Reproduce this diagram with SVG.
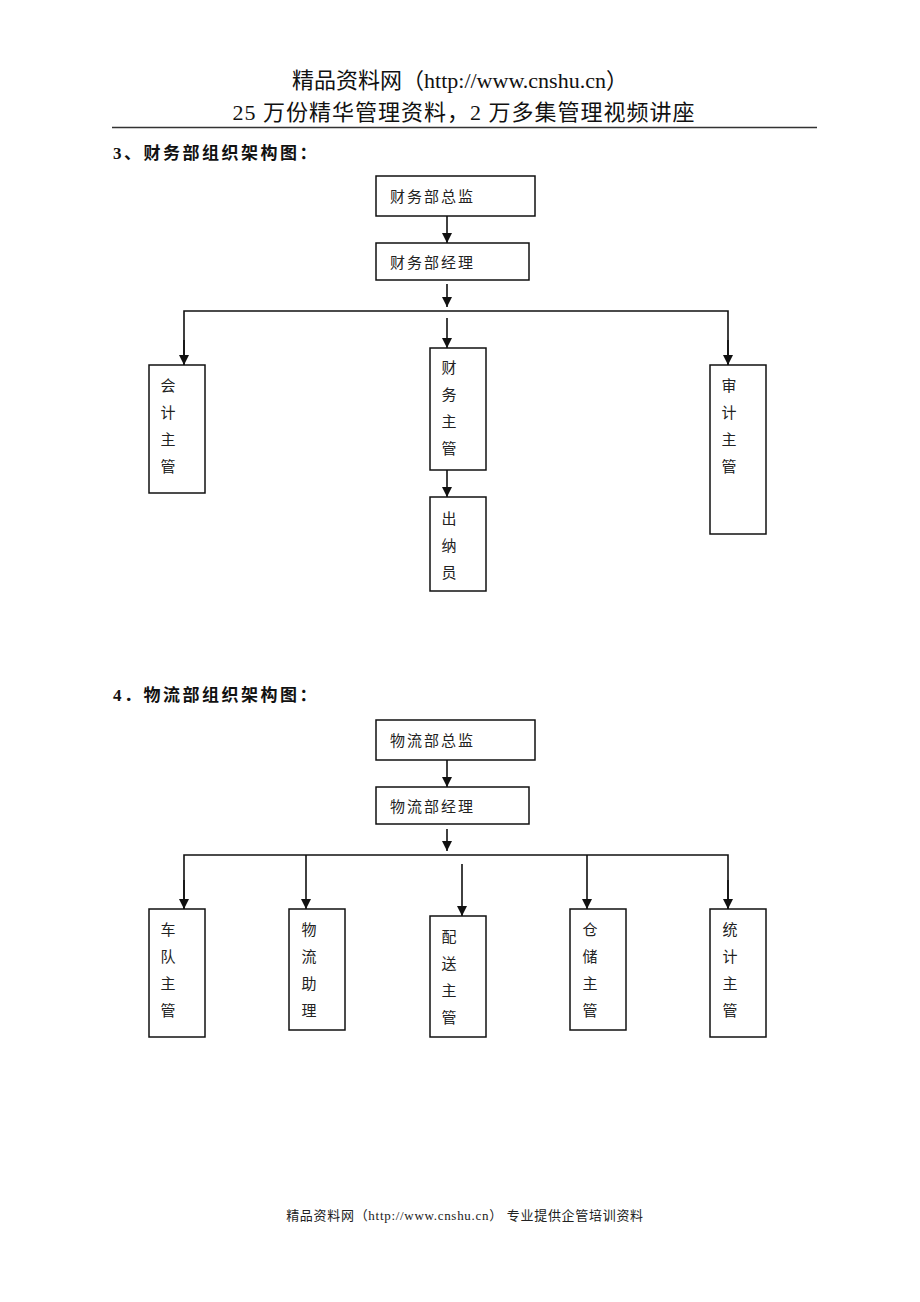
<svg xmlns="http://www.w3.org/2000/svg" width="920" height="1302" viewBox="0 0 920 1302">
<style>
.hdr{font-family:"Liberation Serif","Noto Sans CJK SC",serif;font-size:22px;fill:#111;text-anchor:middle}
.sec{font-family:"Liberation Serif","Noto Sans CJK SC",serif;font-size:17px;font-weight:bold;fill:#111;letter-spacing:2.5px}
.box{fill:#fff;stroke:#111;stroke-width:1.5}
.lbl{font-family:"Liberation Serif","Noto Sans CJK SC",serif;font-size:15px;fill:#222;letter-spacing:2px}
.vl{font-family:"Liberation Serif","Noto Sans CJK SC",serif;font-size:15px;fill:#222;text-anchor:middle}
.ln{stroke:#111;stroke-width:1.6;fill:none}
.ftr{font-family:"Liberation Serif","Noto Sans CJK SC",serif;font-size:13px;fill:#222;text-anchor:middle;letter-spacing:0.7px}
</style>
<defs>
<marker id="ah2" markerWidth="10" markerHeight="10" refX="10" refY="5" orient="auto" markerUnits="userSpaceOnUse">
<path d="M0,0 L10,5 L0,10 Z" fill="#111"/>
</marker>
</defs>
<rect width="920" height="1302" fill="#fff"/>
<g id="header">
<text class="hdr" x="460" y="88">精品资料网（http://www.cnshu.cn）</text>
<text class="hdr" x="464" y="120" style="letter-spacing:1px">25 万份精华管理资料，2 万多集管理视频讲座</text>
<line x1="112" y1="127.5" x2="817" y2="127.5" stroke="#333" stroke-width="1.5"/>
</g>
<text class="sec" x="113" y="159">3、财务部组织架构图：</text>
<text class="sec" x="113" y="701">4．物流部组织架构图：</text>
<g id="connectors">
<line class="ln" x1="447" y1="216" x2="447" y2="243" marker-end="url(#ah2)"/>
<line class="ln" x1="447" y1="284" x2="447" y2="307" marker-end="url(#ah2)"/>
<polyline class="ln" points="184,365 184,311 728,311 728,365" />
<line class="ln" x1="184" y1="340" x2="184" y2="365" marker-end="url(#ah2)"/>
<line class="ln" x1="728" y1="340" x2="728" y2="365" marker-end="url(#ah2)"/>
<line class="ln" x1="447" y1="318" x2="447" y2="348" marker-end="url(#ah2)"/>
<line class="ln" x1="447" y1="470" x2="447" y2="497" marker-end="url(#ah2)"/>
<line class="ln" x1="447" y1="760" x2="447" y2="787" marker-end="url(#ah2)"/>
<line class="ln" x1="447" y1="829" x2="447" y2="851" marker-end="url(#ah2)"/>
<polyline class="ln" points="184,909 184,855 728,855 728,909"/>
<line class="ln" x1="184" y1="880" x2="184" y2="909" marker-end="url(#ah2)"/>
<line class="ln" x1="728" y1="880" x2="728" y2="909" marker-end="url(#ah2)"/>
<line class="ln" x1="306" y1="855" x2="306" y2="909" marker-end="url(#ah2)"/>
<line class="ln" x1="587" y1="855" x2="587" y2="909" marker-end="url(#ah2)"/>
<line class="ln" x1="462" y1="864" x2="462" y2="916" marker-end="url(#ah2)"/>
</g>
<g id="n-cwzj"><rect class="box" x="376" y="176" width="159" height="40"/><text class="lbl" x="390" y="202">财务部总监</text></g>
<g id="n-cwjl"><rect class="box" x="376" y="243" width="153" height="37"/><text class="lbl" x="390" y="268">财务部经理</text></g>
<g id="n-kjzg"><rect class="box" x="149" y="365" width="56" height="128"/>
<text class="vl"><tspan x="168" y="391">会</tspan><tspan x="168" y="418">计</tspan><tspan x="168" y="445">主</tspan><tspan x="168" y="472">管</tspan></text></g>
<g id="n-cwzg"><rect class="box" x="430" y="348" width="56" height="122"/>
<text class="vl"><tspan x="449" y="373">财</tspan><tspan x="449" y="400">务</tspan><tspan x="449" y="427">主</tspan><tspan x="449" y="454">管</tspan></text></g>
<g id="n-cny"><rect class="box" x="430" y="497" width="56" height="94"/>
<text class="vl"><tspan x="449" y="524">出</tspan><tspan x="449" y="551">纳</tspan><tspan x="449" y="578">员</tspan></text></g>
<g id="n-sjzg"><rect class="box" x="710" y="365" width="56" height="169"/>
<text class="vl"><tspan x="729" y="391">审</tspan><tspan x="729" y="418">计</tspan><tspan x="729" y="445">主</tspan><tspan x="729" y="472">管</tspan></text></g>
<g id="n-wlzj"><rect class="box" x="376" y="720" width="159" height="40"/><text class="lbl" x="390" y="746">物流部总监</text></g>
<g id="n-wljl"><rect class="box" x="376" y="787" width="153" height="37"/><text class="lbl" x="390" y="812">物流部经理</text></g>
<g id="n-cdzg"><rect class="box" x="149" y="909" width="56" height="128"/>
<text class="vl"><tspan x="168" y="935">车</tspan><tspan x="168" y="962">队</tspan><tspan x="168" y="989">主</tspan><tspan x="168" y="1016">管</tspan></text></g>
<g id="n-wlzl"><rect class="box" x="289" y="909" width="56" height="121"/>
<text class="vl"><tspan x="309" y="935">物</tspan><tspan x="309" y="962">流</tspan><tspan x="309" y="989">助</tspan><tspan x="309" y="1016">理</tspan></text></g>
<g id="n-pszg"><rect class="box" x="430" y="916" width="56" height="121"/>
<text class="vl"><tspan x="449" y="942">配</tspan><tspan x="449" y="969">送</tspan><tspan x="449" y="996">主</tspan><tspan x="449" y="1023">管</tspan></text></g>
<g id="n-cczg"><rect class="box" x="570" y="909" width="56" height="121"/>
<text class="vl"><tspan x="590" y="935">仓</tspan><tspan x="590" y="962">储</tspan><tspan x="590" y="989">主</tspan><tspan x="590" y="1016">管</tspan></text></g>
<g id="n-tjzg"><rect class="box" x="710" y="909" width="56" height="128"/>
<text class="vl"><tspan x="730" y="935">统</tspan><tspan x="730" y="962">计</tspan><tspan x="730" y="989">主</tspan><tspan x="730" y="1016">管</tspan></text></g>
<text class="ftr" x="465" y="1220">精品资料网（http://www.cnshu.cn）  专业提供企管培训资料</text>
</svg>
